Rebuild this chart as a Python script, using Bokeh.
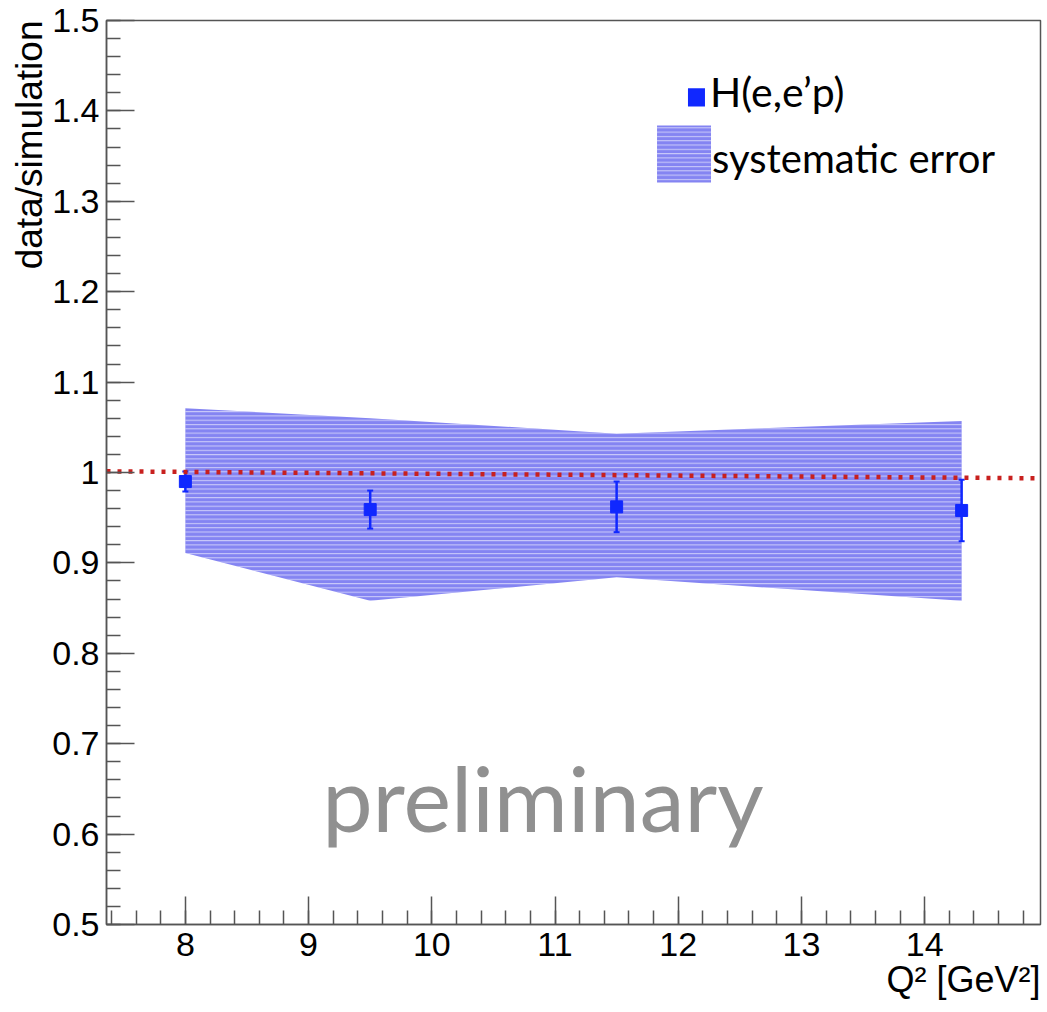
import math
from bokeh.plotting import figure
from bokeh.models import (Range1d, FixedTicker, NumeralTickFormatter, Label,
                          BoxAnnotation, ColumnDataSource, Title)
from bokeh.embed import file_html
from bokeh.resources import INLINE

# ---------------- data ----------------
q2 = [8.0, 9.5, 11.5, 14.3]
ratio = [0.990, 0.959, 0.962, 0.958]
stat_err = [0.011, 0.021, 0.028, 0.034]

band_q2 = [8.0, 9.5, 11.5, 14.3]
band_hi = [1.071, 1.060, 1.043, 1.057]
band_lo = [0.911, 0.858, 0.884, 0.858]

fit_intercept = 1.0088
fit_slope = -0.00102

x_major = [8, 9, 10, 11, 12, 13, 14]
y_major = [0.5, 0.6, 0.7, 0.8, 0.9, 1.0, 1.1, 1.2, 1.3, 1.4, 1.5]

x_lo, x_hi = 7.36, 14.94
y_lo, y_hi = 0.5, 1.5

AX = "#555555"
BLUE = "#1028ff"
BAND = "#8484f2"
RED = "#c8201e"

p = figure(width=1044, height=1008, output_backend="svg", toolbar_location=None,
           x_range=Range1d(x_lo, x_hi), y_range=Range1d(y_lo, y_hi),
           min_border_left=106, min_border_right=4, min_border_top=20,
           min_border_bottom=84)
p.background_fill_color = "white"
p.border_fill_color = "white"
p.outline_line_color = AX
p.outline_line_width = 1.5
p.xgrid.visible = False
p.ygrid.visible = False

x_minor = [round(x_lo + 0.04 + 0.2 * i, 2) for i in range(38)]
y_minor = [round(0.5 + 0.02 * i, 2) for i in range(51)]
p.xaxis.ticker = FixedTicker(ticks=x_major, minor_ticks=x_minor)
p.yaxis.ticker = FixedTicker(ticks=y_major, minor_ticks=y_minor)
p.yaxis.formatter = NumeralTickFormatter(format="0.[0]")

for ax in (p.xaxis, p.yaxis):
    ax.axis_line_color = AX
    ax.axis_line_width = 1.5
    ax.major_tick_line_color = AX
    ax.minor_tick_line_color = AX
    ax.major_tick_line_width = 1.5
    ax.minor_tick_line_width = 1.5
    ax.major_tick_in = 28
    ax.major_tick_out = 0
    ax.minor_tick_in = 14
    ax.minor_tick_out = 0
    ax.major_label_text_font = "Liberation Sans"
    ax.major_label_text_font_size = "34px"
    ax.major_label_text_color = "black"
p.xaxis.major_label_standoff = 8
p.yaxis.major_label_standoff = 7

# ---------------- axis titles ----------------
p.add_layout(Title(text="Q² [GeV²]", align="right", text_font="Liberation Sans",
                   text_font_size="36px", text_font_style="normal",
                   text_color="black", standoff=-3, offset=0), "below")
p.add_layout(Title(text="data/simulation", align="right", text_font="Liberation Sans",
                   text_font_size="37px", text_font_style="normal",
                   text_color="black", standoff=0, offset=0), "left")

# ---------------- systematic band ----------------
p.varea(x=band_q2, y1=band_lo, y2=band_hi, fill_color=BAND, fill_alpha=1.0,
        hatch_pattern="horizontal_line", hatch_color="white", hatch_alpha=0.6,
        hatch_scale=4.3, hatch_weight=1)

# ---------------- data points ----------------
src = ColumnDataSource(dict(
    x=q2, y=ratio,
    lower=[r - e for r, e in zip(ratio, stat_err)],
    upper=[r + e for r, e in zip(ratio, stat_err)]))
p.segment(x0="x", y0="lower", x1="x", y1="upper", source=src,
          line_color=BLUE, line_width=2.5)
p.scatter(x="x", y="upper", source=src, marker="dash", size=6,
          line_color=BLUE, line_width=2)
p.scatter(x="x", y="lower", source=src, marker="dash", size=6,
          line_color=BLUE, line_width=2)
p.scatter(x="x", y="y", source=src, marker="square", size=12,
          fill_color=BLUE, line_color=BLUE)

# ---------------- fit line ----------------
fx = [x_lo, x_hi]
fy = [fit_intercept + fit_slope * v for v in fx]
p.line(fx, fy, line_color=RED, line_width=4.5, line_dash="4 7")

# ---------------- legend ----------------
p.add_layout(BoxAnnotation(left=12.079, right=12.217, bottom=1.405, top=1.425,
                           fill_color=BLUE, fill_alpha=1.0, line_color=None))
p.add_layout(Label(x=12.258, y=1.406, y_offset=14, text="H(e,e’p)", text_font="Lato",
                   text_font_size="41px", text_baseline="alphabetic",
                   text_color="black"))
p.add_layout(BoxAnnotation(left=11.828, right=12.266, bottom=1.3208, top=1.3838,
                           fill_color=BAND, fill_alpha=1.0, line_color=None,
                           hatch_pattern="horizontal_line", hatch_color="white",
                           hatch_alpha=0.6, hatch_scale=4.3, hatch_weight=1))
p.add_layout(Label(x=12.274, y=1.332, y_offset=14, text="systematic error",
                   text_font="Lato", text_font_size="40px",
                   text_baseline="alphabetic", text_color="black"))

# ---------------- watermark ----------------
p.add_layout(Label(x=9.11, y=0.603, y_offset=34, text="preliminary", text_font="Lato",
                   text_font_size="90px", text_baseline="alphabetic",
                   text_color="#909090"))

open("out.html", "w").write(file_html(p, INLINE))
